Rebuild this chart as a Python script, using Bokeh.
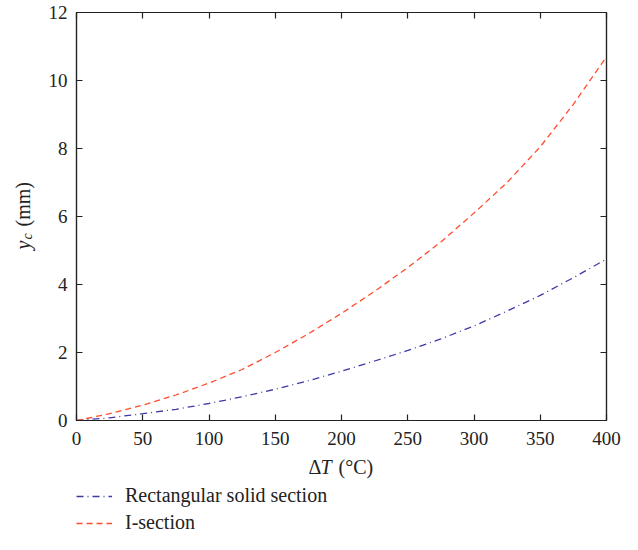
import math
from bokeh.plotting import figure
from bokeh.layouts import row, column
from bokeh.models import (Label, Legend, LegendItem, LinearAxis, FixedTicker, Range1d)
from bokeh.embed import file_html
from bokeh.resources import INLINE

delta_T = [0, 25, 50, 75, 100, 125, 150, 175, 200, 225, 250, 275, 300, 325, 350, 375, 400]
i_section = [0, 0.2, 0.45, 0.75, 1.1, 1.5, 2.0, 2.55, 3.15, 3.8, 4.5, 5.25, 6.1, 7.0, 8.05, 9.3, 10.7]
rect_solid = [0, 0.08, 0.2, 0.33, 0.5, 0.7, 0.92, 1.17, 1.45, 1.75, 2.06, 2.4, 2.78, 3.22, 3.68, 4.2, 4.75]
x_ticks = [0, 50, 100, 150, 200, 250, 300, 350, 400]
y_ticks = [0, 2, 4, 6, 8, 10, 12]
series_names = ["Rectangular solid section", "I-section"]

FONT = "Liberation Serif"
INK = "#222222"
BLUE = "#3d3aa8"
RED = "#ff4d2e"

p = figure(width=578, frame_width=530, frame_height=408, output_backend="svg",
           toolbar_location=None, x_range=Range1d(0, 400), y_range=Range1d(0, 12),
           min_border_left=32, min_border_right=16, min_border_top=12, min_border_bottom=32)
p.grid.visible = False
p.outline_line_color = INK
p.outline_line_width = 1.2

def style_axis(ax, ticks, labels=True):
    ax.ticker = FixedTicker(ticks=ticks)
    ax.major_tick_in = 6
    ax.major_tick_out = 0
    ax.minor_tick_line_color = None
    ax.axis_line_color = INK
    ax.axis_line_width = 1.2
    ax.major_tick_line_color = INK
    ax.major_tick_line_width = 1.2
    ax.major_label_text_font = FONT
    ax.major_label_text_font_size = "19px"
    ax.major_label_text_color = INK if labels else None
    ax.major_label_standoff = 11 if labels else 0

style_axis(p.xaxis[0], x_ticks)
style_axis(p.yaxis[0], y_ticks)
p.yaxis[0].major_label_standoff = 9
top_ax = LinearAxis()
right_ax = LinearAxis()
style_axis(top_ax, x_ticks, labels=False)
style_axis(right_ax, y_ticks, labels=False)
p.add_layout(top_ax, "above")
p.add_layout(right_ax, "right")

p.line(delta_T, rect_solid, line_color=BLUE, line_width=1.3, line_dash="7 4 1 4")
p.line(delta_T, i_section, line_color=RED, line_width=1.3, line_dash="6 4")

def lab(fig, x, y, text, size="20px", style="normal", angle=0.0):
    fig.add_layout(Label(x=x, y=y, x_units="screen", y_units="screen", text=text,
                         text_font=FONT, text_font_size=size, text_font_style=style,
                         text_align="left", text_baseline="middle", angle=angle,
                         text_color=INK))

# left strip: y axis label  y_c (mm)
pl = figure(width=44, height=452, output_backend="svg", toolbar_location=None,
            x_range=Range1d(0, 1), y_range=Range1d(0, 1), min_border=0,
            x_axis_location=None, y_axis_location=None)
pl.grid.visible = False
pl.outline_line_color = None
lab(pl, 22, 171, "y", style="italic", angle=math.pi / 2)
lab(pl, 27, 181, "c", size="14px", style="italic", angle=math.pi / 2)
lab(pl, 22, 194, "(mm)", angle=math.pi / 2)

# bottom strip: x axis label and legend
p2 = figure(width=622, height=82, output_backend="svg", toolbar_location=None,
            x_range=Range1d(1000, 1001), y_range=Range1d(1000, 1001), min_border=0,
            x_axis_location=None, y_axis_location=None)
p2.grid.visible = False
p2.outline_line_color = None
lab(p2, 308, 68, "Δ")
lab(p2, 320, 68, "T", style="italic")
lab(p2, 338, 68, "(°C)")

lg_rect = p2.line(delta_T, rect_solid, line_color=BLUE, line_width=1.3, line_dash="7 4 1 4")
lg_i = p2.line(delta_T, i_section, line_color=RED, line_width=1.3, line_dash="6 4")
legend = Legend(items=[LegendItem(label=series_names[0], renderers=[lg_rect]),
                       LegendItem(label=series_names[1], renderers=[lg_i])],
                location=(76, 0), orientation="vertical",
                border_line_color=None, background_fill_alpha=0,
                label_text_font=FONT, label_text_font_size="20px",
                label_text_color=INK,
                glyph_width=36, glyph_height=20, label_height=20,
                label_standoff=13, spacing=4, padding=0, margin=0)
p2.add_layout(legend)

layout = column(row(pl, p, spacing=0), p2, spacing=0)
open("out.html", "w").write(file_html(layout, INLINE))
